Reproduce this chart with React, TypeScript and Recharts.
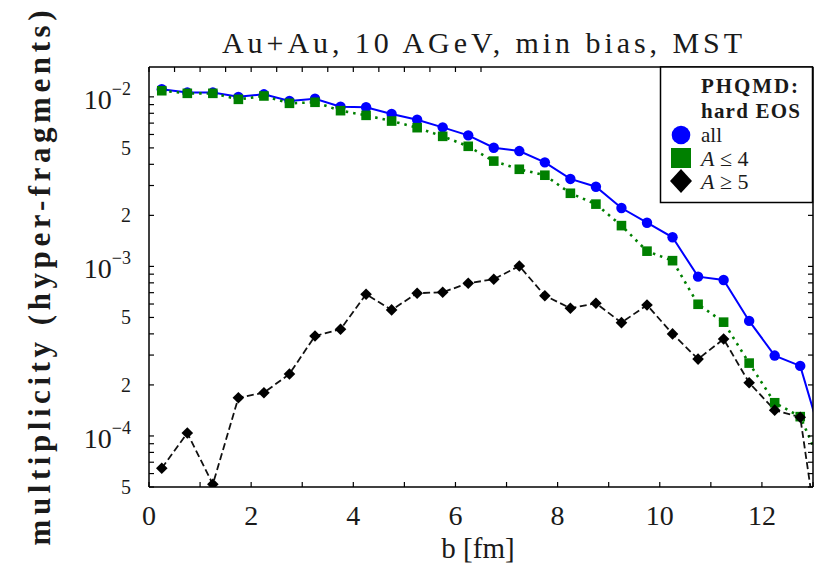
import { LineChart, Line, XAxis, YAxis } from "recharts";

// impact parameter bins (fm); last one sits outside the frame so the lines run to the edge
const impactParameter = [0.25, 0.75, 1.25, 1.75, 2.25, 2.75, 3.25, 3.75, 4.25, 4.75, 5.25, 5.75, 6.25, 6.75, 7.25, 7.75, 8.25, 8.75, 9.25, 9.75, 10.25, 10.75, 11.25, 11.75, 12.25, 12.75, 13.25];

const allFragments = [1.11e-2, 1.06e-2, 1.06e-2, 1.0e-2, 1.035e-2, 9.45e-3, 9.75e-3, 8.75e-3, 8.68e-3, 7.92e-3, 7.33e-3, 6.61e-3, 5.93e-3, 5.01e-3, 4.79e-3, 4.11e-3, 3.28e-3, 2.95e-3, 2.21e-3, 1.81e-3, 1.485e-3, 8.7e-4, 8.32e-4, 4.77e-4, 2.98e-4, 2.59e-4, 8e-5];
const lightFragments = [1.087e-2, 1.049e-2, 1.049e-2, 9.67e-3, 1.012e-2, 9.16e-3, 9.29e-3, 8.29e-3, 7.78e-3, 7.2e-3, 6.58e-3, 5.85e-3, 5.11e-3, 4.18e-3, 3.74e-3, 3.45e-3, 2.7e-3, 2.33e-3, 1.74e-3, 1.23e-3, 1.081e-3, 5.98e-4, 4.69e-4, 2.69e-4, 1.57e-4, 1.3e-4, 5.9e-5];
const heavyFragments = [6.45e-5, 1.04e-4, 5.19e-5, 1.68e-4, 1.8e-4, 2.32e-4, 3.89e-4, 4.26e-4, 6.85e-4, 5.54e-4, 6.95e-4, 7.04e-4, 7.96e-4, 8.4e-4, 1.006e-3, 6.72e-4, 5.67e-4, 6.06e-4, 4.66e-4, 5.92e-4, 4.0e-4, 2.84e-4, 3.73e-4, 2.06e-4, 1.42e-4, 1.29e-4, 1.2e-5];

const xTicks = [0, 1, 2, 3, 4, 5, 6, 7, 8, 9, 10, 11, 12, 13];
const xLabelTicks = [0, 2, 4, 6, 8, 10, 12];

const yTicks = [5e-5, 6e-5, 7e-5, 8e-5, 9e-5, 1e-4, 2e-4, 3e-4, 4e-4, 5e-4, 6e-4, 7e-4, 8e-4, 9e-4, 1e-3, 2e-3, 3e-3, 4e-3, 5e-3, 6e-3, 7e-3, 8e-3, 9e-3, 1e-2];
const yDecadeTicks = [1e-2, 1e-3, 1e-4];
const yDecadeExponents = ["\u22122", "\u22123", "\u22124"];
const yMantissaTicks = [5e-3, 2e-3, 5e-4, 2e-4, 5e-5];
const yMantissaLabels = ["5", "2", "5", "2", "5"];

const data = impactParameter.map((b, i) => ({
  b,
  all: allFragments[i],
  light: lightFragments[i],
  heavy: heavyFragments[i],
}));

const serif = { fontFamily: "'Liberation Serif', 'Times New Roman', serif" };
const TXT = "#1a1a1a";

const near = (a: number, b: number) => Math.abs(a / b - 1) < 1e-6;

function BottomTick({ x, y, payload }: any) {
  const v = payload.value;
  return (
    <g>
      <line x1={x} x2={x} y1={y} y2={y - 5} stroke="#000" strokeWidth={1.2} />
      {xLabelTicks.includes(v) && (
        <text x={x} y={y + 38} textAnchor="middle" style={serif} fontSize={28} fill={TXT}>
          {v}
        </text>
      )}
    </g>
  );
}

function TopTick({ x, y }: any) {
  return <line x1={x} x2={x} y1={y} y2={y + 5} stroke="#000" strokeWidth={1.2} />;
}

function LeftTick({ x, y, payload }: any) {
  const v = payload.value;
  const di = yDecadeTicks.findIndex((t) => near(t, v));
  const mi = yMantissaTicks.findIndex((t) => near(t, v));
  return (
    <g>
      <line x1={x} x2={x + 5} y1={y} y2={y} stroke="#000" strokeWidth={1.2} />
      {di >= 0 && (
        <text x={x - 18} y={y + 12} textAnchor="end" style={serif} fontSize={28} fill={TXT}>
          10
          <tspan dy={-14} fontSize={18}>
            {yDecadeExponents[di]}
          </tspan>
        </text>
      )}
      {mi >= 0 && (
        <text x={x - 18} y={y + 7} textAnchor="end" style={serif} fontSize={20} fill={TXT}>
          {yMantissaLabels[mi]}
        </text>
      )}
    </g>
  );
}

function RightTick({ x, y }: any) {
  return <line x1={x} x2={x - 5} y1={y} y2={y} stroke="#000" strokeWidth={1.2} />;
}

function CircleDot({ cx, cy, payload }: any) {
  if (payload.b > 13) return <g />;
  return <circle cx={cx} cy={cy} r={5.2} fill="#0000ff" />;
}

function SquareDot({ cx, cy, payload }: any) {
  if (payload.b > 13) return <g />;
  return <rect x={cx - 4.8} y={cy - 4.8} width={9.6} height={9.6} fill="#008000" />;
}

function DiamondDot({ cx, cy, payload }: any) {
  if (payload.b > 13) return <g />;
  const s = 5.8;
  return <path d={`M${cx},${cy - s}L${cx + s},${cy}L${cx},${cy + s}L${cx - s},${cy}Z`} fill="#000" />;
}

export default function App() {
  return (
    <div style={{ position: "absolute", left: 0, top: 0, width: 817, height: 570, background: "#fff" }}>
      <LineChart width={817} height={570} data={data} margin={{ top: 60, right: 0, bottom: 33, left: 89 }}>
        <XAxis
          dataKey="b"
          type="number"
          domain={[0, 13]}
          ticks={xTicks}
          allowDataOverflow
          height={50}
          tickSize={0}
          tickMargin={0}
          tickLine={false}
          tick={<BottomTick />}
          axisLine={{ stroke: "#000", strokeWidth: 1.5 }}
          interval={0}
        />
        <XAxis
          xAxisId="top"
          orientation="top"
          type="number"
          domain={[0, 13]}
          ticks={xTicks}
          allowDataOverflow
          height={7}
          tickSize={0}
          tickMargin={0}
          tickLine={false}
          tick={<TopTick />}
          axisLine={{ stroke: "#000", strokeWidth: 1.5 }}
          interval={0}
        />
        <YAxis
          type="number"
          scale="log"
          domain={[5e-5, 0.015]}
          ticks={yTicks}
          allowDataOverflow
          width={60}
          tickSize={0}
          tickMargin={0}
          tickLine={false}
          tick={<LeftTick />}
          axisLine={{ stroke: "#000", strokeWidth: 1.5 }}
          interval={0}
        />
        <YAxis
          yAxisId="right"
          orientation="right"
          type="number"
          scale="log"
          domain={[5e-5, 0.015]}
          ticks={yTicks}
          allowDataOverflow
          width={4}
          tickSize={0}
          tickMargin={0}
          tickLine={false}
          tick={<RightTick />}
          axisLine={{ stroke: "#000", strokeWidth: 1.5 }}
          interval={0}
        />
        <Line dataKey="all" stroke="#0000ff" strokeWidth={2} dot={<CircleDot />} isAnimationActive={false} />
        <Line
          dataKey="light"
          stroke="#008000"
          strokeWidth={2.6}
          strokeDasharray="2.5 5"
          dot={<SquareDot />}
          isAnimationActive={false}
        />
        <Line
          dataKey="heavy"
          stroke="#111"
          strokeWidth={1.8}
          strokeDasharray="7 3.5"
          dot={<DiamondDot />}
          isAnimationActive={false}
        />
      </LineChart>
      <svg width={817} height={570} style={{ position: "absolute", left: 0, top: 0, pointerEvents: "none" }}>
        <text x={482} y={53} textAnchor="middle" style={serif} fontSize={30} fill={TXT} textLength={520} lengthAdjust="spacing">
          Au+Au, 10 AGeV, min bias, MST
        </text>
        <text x={478} y={558} textAnchor="middle" style={serif} fontSize={29} fill={TXT}>
          b [fm]
        </text>
        <text
          x={50}
          y={278}
          transform="rotate(-90 50 278)"
          textAnchor="middle"
          style={serif}
          fontWeight="bold"
          fontSize={31}
          fill={TXT}
          textLength={535}
          lengthAdjust="spacing"
        >
          multiplicity (hyper-fragments)
        </text>
        <rect x={660.5} y={67} width={152} height={135.5} fill="#fff" stroke="#000" strokeWidth={1.5} />
        <text x={701} y={93} style={serif} fontWeight="bold" fontSize={21} fill={TXT} textLength={97} lengthAdjust="spacing">
          PHQMD:
        </text>
        <text x={701} y={118} style={serif} fontWeight="bold" fontSize={21} fill={TXT} textLength={99} lengthAdjust="spacing">
          hard EOS
        </text>
        <circle cx={681} cy={135} r={9.3} fill="#0000ff" />
        <text x={701} y={141.5} style={serif} fontSize={21} fill={TXT}>
          all
        </text>
        <rect x={671} y={148} width={20} height={20} fill="#008000" />
        <text x={701} y={166} style={serif} fontSize={22} fill={TXT}>
          <tspan fontStyle="italic">A</tspan> {"\u2264"} 4
        </text>
        <path d="M681,169L692,181L681,193L670,181Z" fill="#000" />
        <text x={701} y={189} style={serif} fontSize={22} fill={TXT}>
          <tspan fontStyle="italic">A</tspan> {"\u2265"} 5
        </text>
      </svg>
    </div>
  );
}
